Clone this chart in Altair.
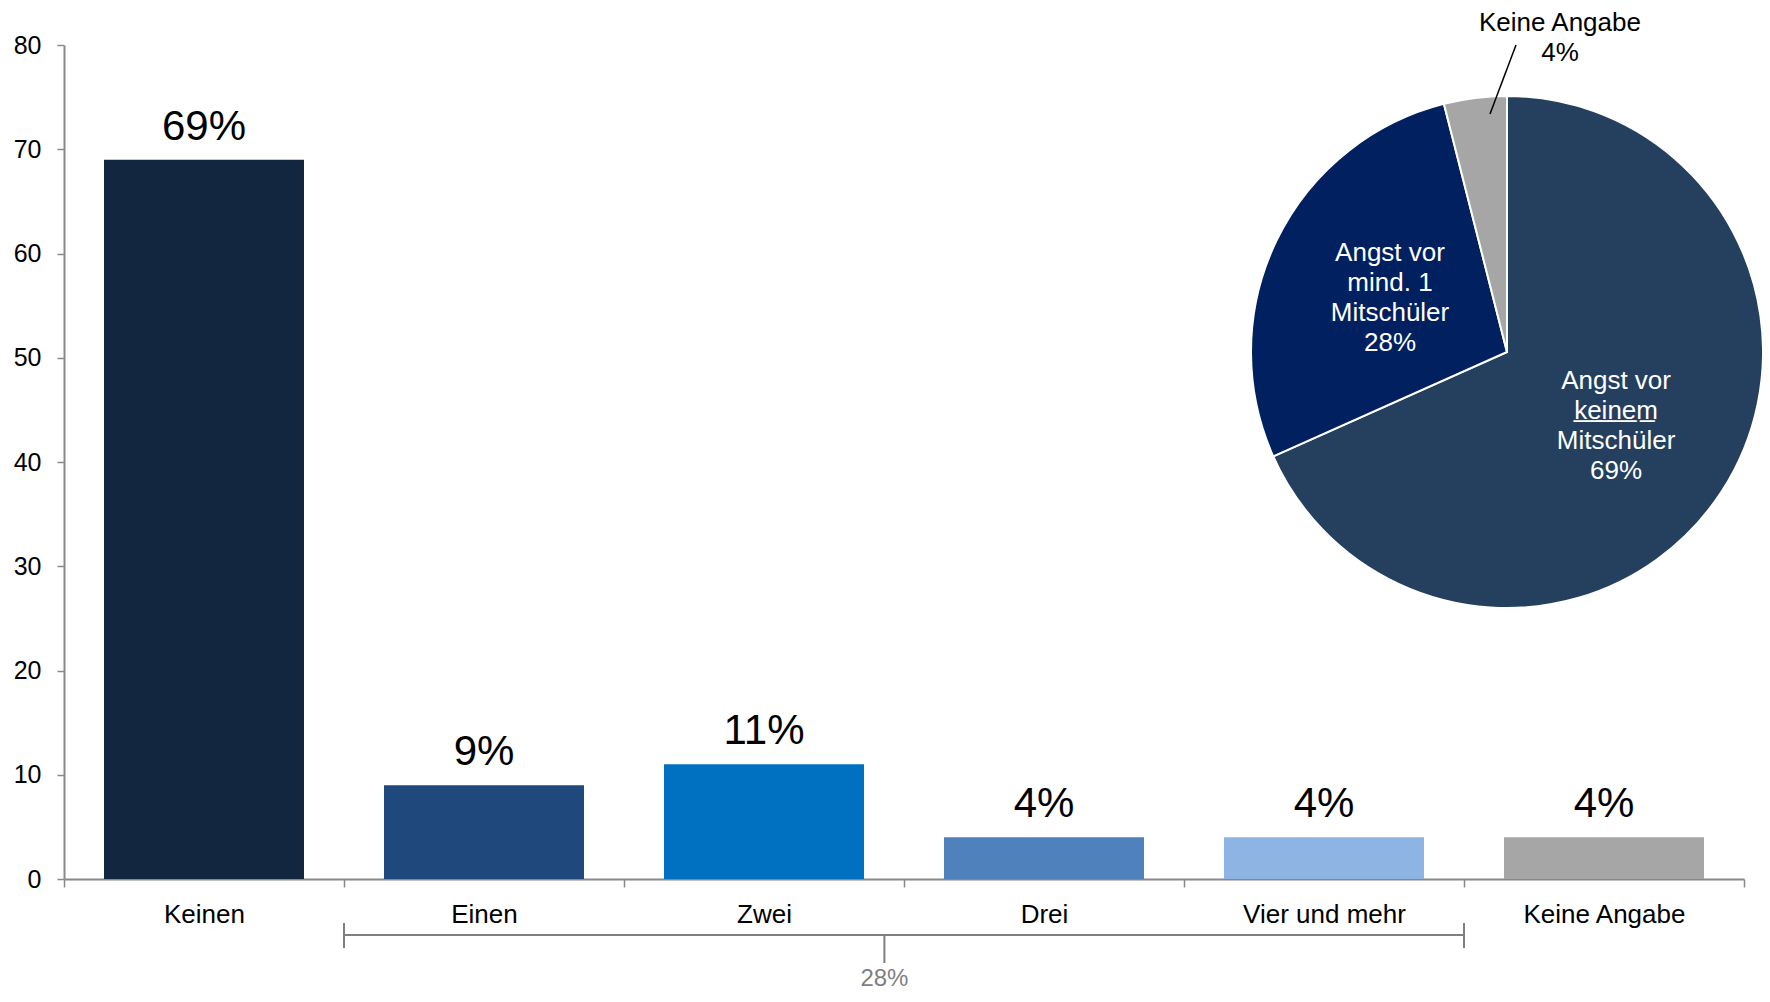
import altair as alt
import pandas as pd

# ---- data ----
categories = ["Keinen", "Einen", "Zwei", "Drei", "Vier und mehr", "Keine Angabe"]
values = [69, 9, 11, 4, 4, 4]
bar_colors = ["#13263F", "#1F497D", "#0070C0", "#4F81BD", "#8DB4E2", "#A6A6A6"]

pie_names = ["Angst vor keinem Mitschüler", "Angst vor mind. 1 Mitschüler", "Keine Angabe"]
pie_values = [69, 28, 4]
pie_colors = ["#253F5F", "#002060", "#A6A6A6"]
pie_inner_labels = [
    "Angst vor\nk\u0332e\u0332i\u0332n\u0332e\u0332m\u0332\nMitschüler\n69%",
    "Angst vor\nmind. 1\nMitschüler\n28%",
    "",
]
pie_outside_label = "Keine Angabe\n4%"

group_start = "Einen"
group_end = "Vier und mehr"
group_label = "28%"

FONT = "Liberation Sans"

bars_df = pd.DataFrame({
    "cat": categories,
    "value": values,
    "color": bar_colors,
    "label": [f"{v}%" for v in values],
})
pie_df = pd.DataFrame({
    "name": pie_names,
    "value": pie_values,
    "color": pie_colors,
    "inner": pie_inner_labels,
    "idx": list(range(len(pie_names))),
})
bracket_df = pd.DataFrame({"start": [group_start], "end": [group_end], "mid": ["Zwei"], "label": [group_label]})
outside_df = pd.DataFrame({"label": [pie_outside_label]})

xscale = alt.Scale(domain=categories, paddingInner=0, paddingOuter=0)
yscale = alt.Scale(domain=[0, 80], nice=False)

x_axis = alt.Axis(
    title=None, tickBand="extent", labelAngle=0, labelFontSize=26, labelColor="black",
    labelFont=FONT, labelPadding=14, tickSize=8, tickColor="#888888", tickWidth=1.5,
    domainColor="#888888", domainWidth=2, grid=False,
)
y_axis = alt.Axis(
    title=None, values=list(range(0, 81, 10)), labelFontSize=25, labelColor="black",
    labelFont=FONT, labelPadding=16, tickSize=7, tickColor="#888888", tickWidth=1.5,
    domainColor="#888888", domainWidth=2, grid=False,
)

base = alt.Chart(bars_df)
bars = base.mark_bar(width=alt.RelativeBandSize(band=200 / 280)).encode(
    x=alt.X("cat:N", scale=xscale, axis=x_axis, sort=categories),
    y=alt.Y("value:Q", scale=yscale, axis=y_axis),
    color=alt.Color("color:N", scale=None),
)
bar_text = base.mark_text(fontSize=42, font=FONT, baseline="alphabetic", dy=-20, color="black").encode(
    x=alt.X("cat:N", scale=xscale, title=None),
    y=alt.Y("value:Q", scale=yscale, title=None),
    text="label:N",
)

# bracket under the x axis
bline = alt.Chart(bracket_df).mark_rule(color="#7F7F7F", strokeWidth=2).encode(
    x=alt.X("start:N", scale=xscale, bandPosition=0, title=None),
    x2=alt.X2("end:N", bandPosition=1),
    y=alt.value(890),
)
bleft = alt.Chart(bracket_df).mark_rule(color="#7F7F7F", strokeWidth=2).encode(
    x=alt.X("start:N", scale=xscale, bandPosition=0, title=None),
    y=alt.value(878), y2=alt.value(903),
)
bright = alt.Chart(bracket_df).mark_rule(color="#7F7F7F", strokeWidth=2).encode(
    x=alt.X("end:N", scale=xscale, bandPosition=1, title=None),
    y=alt.value(878), y2=alt.value(903),
)
bmid = alt.Chart(bracket_df).mark_rule(color="#7F7F7F", strokeWidth=2).encode(
    x=alt.X("mid:N", scale=xscale, bandPosition=0.93, title=None),
    y=alt.value(890), y2=alt.value(918),
)
btext = alt.Chart(bracket_df).mark_text(fontSize=24, font=FONT, color="#7F7F7F", baseline="middle").encode(
    x=alt.X("mid:N", scale=xscale, bandPosition=0.93, title=None),
    y=alt.value(934),
    text="label:N",
)

# pie
PX, PY, PR = 1443, 307, 256
pie = alt.Chart(pie_df).mark_arc(radius=PR, stroke="white", strokeWidth=2).encode(
    theta=alt.Theta("value:Q", stack=True),
    order=alt.Order("idx:Q"),
    color=alt.Color("color:N", scale=None),
    x=alt.value(PX), y=alt.value(PY),
)
pie_text = alt.Chart(pie_df).mark_text(
    radius=130, color="white", fontSize=26, font=FONT, lineHeight=30, lineBreak="\n",
    align="center", baseline="middle", dy=-42,
).encode(
    theta=alt.Theta("value:Q", stack=True),
    order=alt.Order("idx:Q"),
    text="inner:N",
    x=alt.value(PX), y=alt.value(PY),
)
leader = alt.Chart(outside_df).mark_rule(color="black", strokeWidth=1.5).encode(
    x=alt.value(1452), x2=alt.value(1426), y=alt.value(0), y2=alt.value(69),
)
out_text = alt.Chart(outside_df).mark_text(
    fontSize=26, font=FONT, color="black", lineHeight=30, lineBreak="\n", align="center", baseline="middle",
).encode(
    x=alt.value(1496), y=alt.value(-22), text="label:N",
)

chart = alt.layer(
    bars, bar_text, bline, bleft, bright, bmid, btext, pie, pie_text, leader, out_text
).properties(
    width=1680, height=834,
    autosize=alt.AutoSizeParams(type="none"),
    padding={"left": 56, "top": 37, "right": 18, "bottom": 113},
).configure(font=FONT, view=alt.ViewConfig(stroke=None))

chart.save("out.html", embed_options={"renderer": "svg", "actions": False})
